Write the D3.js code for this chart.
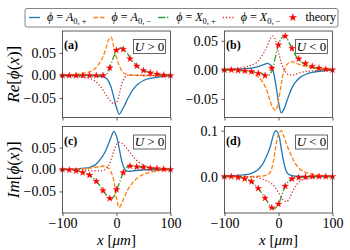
<!DOCTYPE html>
<html>
<head>
<meta charset="utf-8" />
<script src="https://cdn.jsdelivr.net/npm/d3@7"></script>
<style>
  body { margin: 0; background: #fff; }
  text { font-family: "Liberation Serif", "DejaVu Serif", serif; fill: #000; }
</style>
</head>
<body>
<svg id="chart" width="350" height="250"></svg>
<script>
// x grid (um) used for the curves
const xs = [-100, -80, -60, -50, -40, -30, -25, -20, -15, -10, -5, 0, 5, 10, 15, 20, 25, 30, 40, 50, 60, 80, 100];

// (a) Re, U > 0
const aAp = [0, 0, 0, 0, -0.001, -0.002, -0.003, -0.005, -0.012, -0.026, -0.048, -0.071, -0.086, -0.077, -0.066, -0.053, -0.042, -0.032, -0.019, -0.011, -0.007, -0.003, -0.001];
const aAm = [0.0005, 0.002, 0.005, 0.008, 0.015, 0.030, 0.042, 0.058, 0.078, 0.085, 0.062, 0.040, 0.022, 0.010, 0.004, 0.002, 0.001, 0.0005, 0, 0, 0, 0, 0];
const aXp = [0, 0, 0, 0, 0, 0, 0, 0.001, 0.008, 0.025, 0.042, 0.054, 0.060, 0.061, 0.057, 0.049, 0.040, 0.032, 0.019, 0.011, 0.007, 0.002, 0.0005];
const aXm = [-0.0005, -0.002, -0.004, -0.006, -0.012, -0.024, -0.032, -0.042, -0.051, -0.058, -0.063, -0.060, -0.042, -0.018, -0.005, 0, 0.001, 0.001, 0.0005, 0, 0, 0, 0];

// (b) Re, U < 0
const bAp = [0.0003, 0.001, 0.002, 0.003, 0.005, 0.008, 0.010, 0.011, 0.008, -0.002, -0.025, -0.055, -0.074, -0.068, -0.055, -0.042, -0.031, -0.023, -0.013, -0.008, -0.005, -0.002, -0.0005];
const bAm = [-0.0003, -0.001, -0.003, -0.005, -0.010, -0.020, -0.028, -0.040, -0.055, -0.066, -0.070, -0.052, -0.025, -0.003, 0.008, 0.013, 0.014, 0.012, 0.009, 0.006, 0.004, 0.001, 0.0003];
const bXp = [0, -0.0005, -0.002, -0.003, -0.005, -0.007, -0.009, -0.010, -0.007, 0.005, 0.025, 0.043, 0.054, 0.058, 0.055, 0.046, 0.036, 0.027, 0.015, 0.009, 0.005, 0.002, 0.0005];
const bXm = [0.0005, 0.002, 0.005, 0.008, 0.013, 0.025, 0.033, 0.043, 0.054, 0.058, 0.050, 0.031, 0.012, 0.001, -0.006, -0.009, -0.009, -0.008, -0.005, -0.003, -0.002, -0.0005, 0];

// (c) Im, U > 0
const cAp = [0.0005, 0.001, 0.003, 0.005, 0.010, 0.023, 0.032, 0.043, 0.058, 0.074, 0.087, 0.076, 0.048, 0.018, 0.001, -0.004, -0.004, -0.003, -0.002, -0.001, -0.0005, 0, 0];
const cAm = [0.0003, 0.001, 0.002, 0.003, 0.005, 0.007, 0.008, 0.007, 0.003, -0.006, -0.025, -0.065, -0.087, -0.076, -0.062, -0.048, -0.038, -0.030, -0.018, -0.011, -0.007, -0.002, -0.0005];
const cXp = [0, -0.0015, -0.007, -0.012, -0.023, -0.038, -0.048, -0.056, -0.064, -0.068, -0.062, -0.047, -0.032, -0.015, -0.003, 0.006, 0.008, 0.007, 0.006, 0.005, 0.003, 0.001, 0];
const cXm = [0, -0.0005, -0.001, -0.002, -0.003, -0.003, -0.002, 0.001, 0.008, 0.022, 0.042, 0.057, 0.062, 0.060, 0.054, 0.047, 0.039, 0.031, 0.018, 0.010, 0.005, 0.001, 0];

// (d) Im, U < 0
const dAp = [0.0005, 0.002, 0.004, 0.007, 0.013, 0.026, 0.037, 0.050, 0.066, 0.088, 0.100, 0.092, 0.062, 0.030, 0.010, 0.004, 0.002, 0.001, 0.0005, 0, 0, 0, 0];
const dAm = [0, 0, 0, 0, 0.0005, 0.001, 0.002, 0.004, 0.010, 0.030, 0.065, 0.092, 0.100, 0.088, 0.070, 0.056, 0.042, 0.030, 0.016, 0.009, 0.006, 0.002, 0.0005];
const dXp = [0, -0.001, -0.005, -0.011, -0.022, -0.038, -0.047, -0.056, -0.065, -0.070, -0.068, -0.060, -0.045, -0.028, -0.016, -0.009, -0.005, -0.003, -0.002, -0.001, -0.0005, 0, 0];
const dXm = [0, 0, -0.0005, -0.001, -0.002, -0.005, -0.008, -0.010, -0.014, -0.018, -0.026, -0.035, -0.045, -0.052, -0.055, -0.048, -0.035, -0.024, -0.010, -0.005, -0.003, -0.001, 0];

// theory points
const xTheory = [-100, -87.5, -75, -62.5, -50, -37.5, -25, -12.5, 0, 12.5, 25, 37.5, 50, 62.5, 75, 87.5, 100];
const aTh = [0, 0, 0, 0, 0, 0, 0, 0.017, 0.056, 0.058, 0.037, 0.021, 0.011, 0.006, 0.003, 0.001, 0];
const bTh = [0, 0, -0.001, -0.002, -0.003, -0.006, -0.010, 0.003, 0.043, 0.058, 0.037, 0.019, 0.011, 0.006, 0.003, 0.001, 0];
const cTh = [0, -0.001, -0.003, -0.007, -0.013, -0.027, -0.048, -0.066, -0.046, -0.007, 0.008, 0.006, 0.005, 0.003, 0.002, 0.001, 0];
const dTh = [0, 0, -0.002, -0.005, -0.011, -0.026, -0.047, -0.068, -0.060, -0.021, -0.005, -0.002, -0.001, 0, 0, 0, 0];

const xTicks = [-100, 0, 100];
const panelLabels = ["(a)", "(b)", "(c)", "(d)"];
const uSigns = [">", "<", ">", "<"];
const legendSubs = ["0, +", "0, \u2212", "0, +", "0, \u2212"];
const legendLetters = ["A", "A", "X", "X"];

const colors = ["#1f77b4", "#ff7f0e", "#2ca02c", "#d62728"];
const dashes = [null, "4.4,1.9", "7,1.9,1.2,1.9", "1.2,2"];

const panels = [
  { series: [aAp, aAm, aXp, aXm], theory: aTh, dom: [-0.093, 0.0985], ticks: [-0.05, 0, 0.05], fmt: ".2f", col: 0, row: 0 },
  { series: [bAp, bAm, bXp, bXm], theory: bTh, dom: [-0.082, 0.0668], ticks: [-0.05, 0, 0.05], fmt: ".2f", col: 1, row: 0 },
  { series: [cAp, cAm, cXp, cXm], theory: cTh, dom: [-0.0993, 0.0982], ticks: [-0.05, 0, 0.05], fmt: ".2f", col: 0, row: 1 },
  { series: [dAp, dAm, dXp, dXm], theory: dTh, dom: [-0.0795, 0.109], ticks: [0, 0.1], fmt: ".1f", col: 1, row: 1 }
];

const colX = [62.5, 224.5];
const rowY = [31, 126.5];
const pw = 108, ph = 86.5;

const svg = d3.select("#chart");
const star = d3.symbol().type(d3.symbolStar).size(14);

panels.forEach((p, i) => {
  const g = svg.append("g").attr("transform", `translate(${colX[p.col]},${rowY[p.row]})`);
  const x = d3.scaleLinear().domain([-100, 100]).range([0, pw]);
  const y = d3.scaleLinear().domain(p.dom).range([ph, 0]);

  const line = d3.line().x((d, k) => x(xs[k])).y((d) => y(d)).curve(d3.curveCatmullRom.alpha(0.5));
  p.series.forEach((s, k) => {
    g.append("path")
      .attr("d", line(s))
      .attr("fill", "none")
      .attr("stroke", colors[k])
      .attr("stroke-width", 1.3)
      .attr("stroke-dasharray", dashes[k]);
  });

  g.selectAll("path.star")
    .data(p.theory)
    .enter()
    .append("path")
    .attr("class", "star")
    .attr("d", star)
    .attr("transform", (d, k) => `translate(${x(xTheory[k])},${y(d)})`)
    .attr("fill", "#ff0000")
    .attr("stroke", "#ff0000")
    .attr("stroke-width", 0.3);

  // frame
  g.append("rect").attr("width", pw).attr("height", ph).attr("fill", "none").attr("stroke", "#333").attr("stroke-width", 0.8);

  const yAxis = d3.axisLeft(y).tickValues(p.ticks).tickFormat(d3.format(p.fmt)).tickSize(3).tickPadding(3.5);
  const ya = g.append("g").call(yAxis);
  const xAxis = d3.axisBottom(x).tickValues(xTicks).tickSize(3).tickPadding(2)
    .tickFormat(p.row === 1 ? d3.format("d") : () => "");
  const xa = g.append("g").attr("transform", `translate(0,${ph})`).call(xAxis);
  [ya, xa].forEach((a) => {
    a.select(".domain").remove();
    a.selectAll(".tick line").attr("stroke", "#333").attr("stroke-width", 0.8);
    a.selectAll(".tick text").attr("font-size", 14).attr("font-family", "Liberation Serif, DejaVu Serif, serif");
  });

  g.append("text").attr("x", 1.5).attr("y", 18).attr("font-size", 12).attr("font-weight", "bold").text(panelLabels[i]);

  const bx = g.append("g").attr("transform", `translate(${pw - 37},${8.5})`);
  bx.append("rect").attr("width", 32).attr("height", 14).attr("fill", "#fff").attr("stroke", "#555").attr("stroke-width", 0.9);
  const ut = bx.append("text").attr("x", 16).attr("y", 11.3).attr("text-anchor", "middle").attr("font-size", 13);
  ut.append("tspan").attr("font-style", "italic").text("U");
  ut.append("tspan").text(` ${uSigns[i]} 0`);

  if (p.row === 1) {
    const xl = svg.append("text")
      .attr("x", colX[p.col] + pw / 2).attr("y", 244.5).attr("text-anchor", "middle").attr("font-size", 15);
    xl.append("tspan").attr("font-style", "italic").text("x");
    xl.append("tspan").text(" [");
    xl.append("tspan").attr("font-style", "italic").text("\u03bcm");
    xl.append("tspan").text("]");
  }
  if (p.col === 0) {
    const yl = svg.append("text")
      .attr("transform", `translate(19,${rowY[p.row] + ph / 2}) rotate(-90)`)
      .attr("text-anchor", "middle").attr("font-size", 17);
    yl.append("tspan").attr("font-style", "italic").text(p.row === 0 ? "Re" : "Im");
    yl.append("tspan").text("[");
    yl.append("tspan").attr("font-style", "italic").text("\u03d5");
    yl.append("tspan").text("(");
    yl.append("tspan").attr("font-style", "italic").text("x");
    yl.append("tspan").text(")]");
  }
});

// legend
const lg = svg.append("g");
lg.append("rect").attr("x", 25).attr("y", 8.5).attr("width", 313).attr("height", 18.5).attr("rx", 2)
  .attr("fill", "#fff").attr("stroke", "#666").attr("stroke-width", 0.8);
for (let k = 0; k < 4; k++) {
  const lx = 29 + k * 64.6;
  lg.append("line").attr("x1", lx).attr("x2", lx + 11).attr("y1", 17.5).attr("y2", 17.5)
    .attr("stroke", colors[k]).attr("stroke-width", 1.3).attr("stroke-dasharray", dashes[k]);
  const t = lg.append("text").attr("x", lx + 18).attr("y", 21).attr("font-size", 12);
  t.append("tspan").attr("font-style", "italic").text("\u03d5");
  t.append("tspan").text(" = ");
  t.append("tspan").attr("font-style", "italic").text(legendLetters[k]);
  t.append("tspan").attr("font-size", 8.5).attr("dy", 2.5).text(legendSubs[k]);
}
const sx = 29 + 4 * 64.6;
lg.append("path").attr("d", d3.symbol().type(d3.symbolStar).size(22)).attr("transform", `translate(${sx + 5.5},17.5)`).attr("fill", "#ff0000");
lg.append("text").attr("x", sx + 18).attr("y", 21).attr("font-size", 12).text("theory");
</script>
</body>
</html>
